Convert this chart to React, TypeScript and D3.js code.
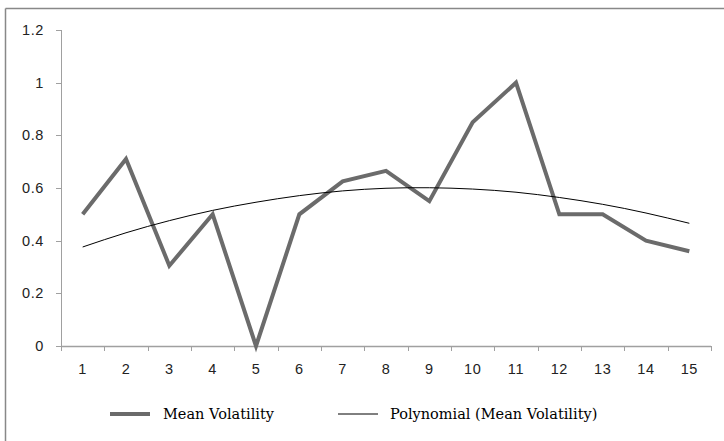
import React from "react";
import * as d3 from "d3";

const categories = ["1","2","3","4","5","6","7","8","9","10","11","12","13","14","15"];
const meanVolatility = [0.5, 0.71, 0.305, 0.5, 0, 0.5, 0.625, 0.665, 0.55, 0.85, 1.0, 0.5, 0.5, 0.4, 0.36];
const polynomialTrend = [0.376, 0.43, 0.476, 0.515, 0.546, 0.571, 0.589, 0.599, 0.601, 0.596, 0.584, 0.564, 0.538, 0.505, 0.466];
const yTicks = [0, 0.2, 0.4, 0.6, 0.8, 1, 1.2];
const seriesNames = ["Mean Volatility", "Polynomial (Mean Volatility)"];

export default function App() {
  const W = 724, H = 441;
  const left = 61, right = 711, top = 30, bottom = 346;
  const x = d3.scaleBand<string>().domain(categories).range([left, right]);
  const y = d3.scaleLinear().domain([0, 1.2]).range([bottom, top]);
  const cx = (i: number) => (x(categories[i]) as number) + x.bandwidth() / 2;
  const line = d3.line<number>().x((_, i) => cx(i)).y((d) => y(d));
  const trend = d3.line<number>().x((_, i) => cx(i)).y((d) => y(d)).curve(d3.curveNatural);
  const axisColor = "#a0a0a0";
  const tickFont = "'Liberation Sans', Arial, sans-serif";
  const legFont = "'DejaVu Serif', serif";
  const bounds = [...categories.map((c) => x(c) as number), right];
  return (
    <svg width={W} height={H} style={{ position: "absolute", left: 0, top: 0, background: "#fff" }}>
      <rect x={0} y={0} width={W} height={H} fill="#fff" />
      <line x1={5.5} y1={8.5} x2={W} y2={8.5} stroke="#888" strokeWidth={1.5} />
      <line x1={5.5} y1={8.5} x2={5.5} y2={H} stroke="#888" strokeWidth={1.5} />
      {/* y axis */}
      <line x1={left + 0.5} y1={top} x2={left + 0.5} y2={bottom} stroke={axisColor} strokeWidth={1} />
      {yTicks.map((t) => (
        <g key={t}>
          <line x1={left - 5} x2={left} y1={Math.round(y(t)) + 0.5} y2={Math.round(y(t)) + 0.5} stroke={axisColor} />
          <text x={left - 17} y={y(t) + 5} textAnchor="end" fontFamily={tickFont} fontSize={14.5} letterSpacing={0.6} fill="#222">
            {String(t)}
          </text>
        </g>
      ))}
      {/* x axis */}
      <line x1={left} y1={bottom + 0.5} x2={right} y2={bottom + 0.5} stroke={axisColor} strokeWidth={1.5} />
      {bounds.map((b, i) => (
        <line key={i} x1={Math.round(b) + 0.5} x2={Math.round(b) + 0.5} y1={bottom} y2={bottom + 5} stroke={axisColor} />
      ))}
      {categories.map((c, i) => (
        <text key={c} x={cx(i)} y={bottom + 28} textAnchor="middle" fontFamily={tickFont} fontSize={14.5} letterSpacing={0.6} fill="#222">
          {c}
        </text>
      ))}
      <path d={line(meanVolatility) || ""} fill="none" stroke="#6b6b6b" strokeWidth={4} strokeLinejoin="miter" />
      <path d={trend(polynomialTrend) || ""} fill="none" stroke="#000" strokeWidth={1} />
      {/* legend */}
      <line x1={110} x2={150} y1={414} y2={414} stroke="#6b6b6b" strokeWidth={4} />
      <text x={163} y={418.5} fontFamily={legFont} fontSize={14.5} fill="#000">{seriesNames[0]}</text>
      <line x1={338} x2={378} y1={414} y2={414} stroke="#000" strokeWidth={1} />
      <text x={390} y={418.5} fontFamily={legFont} fontSize={14.5} fill="#000">{seriesNames[1]}</text>
    </svg>
  );
}
